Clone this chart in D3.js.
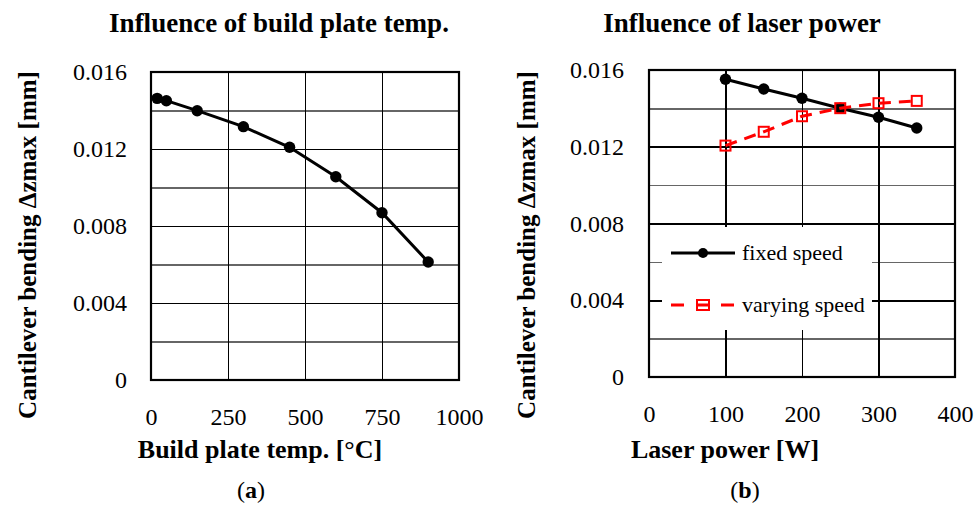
<!DOCTYPE html>
<html>
<head>
<meta charset="utf-8">
<script src="https://cdn.jsdelivr.net/npm/d3@7/dist/d3.min.js"></script>
<style>
  html, body { margin: 0; padding: 0; background: #fff; }
  svg { display: block; }
  text { font-family: "Liberation Serif", "DejaVu Serif", serif; fill: #000; }
</style>
</head>
<body>
<svg id="chart" width="978" height="507"></svg>
<script>
// ---- Data ----
const plateTemp = [20, 50, 150, 300, 450, 600, 750, 900];
const plateBending = [0.01463, 0.01451, 0.01399, 0.01316, 0.01209, 0.01056, 0.00869, 0.00613];

const laserPower = [100, 150, 200, 250, 300, 350];
const fixedSpeed = [0.01552, 0.01501, 0.01453, 0.01401, 0.01354, 0.01298];
const varyingSpeed = [0.01206, 0.01278, 0.01359, 0.01401, 0.01427, 0.01439];

const yTicks = [0, 0.004, 0.008, 0.012, 0.016];
const yMinor = [0.002, 0.006, 0.010, 0.014];
const plateTicks = [0, 250, 500, 750, 1000];
const powerTicks = [0, 100, 200, 300, 400];

const titles = ["Influence of build plate temp.", "Influence of laser power"];
const xTitles = ["Build plate temp. [°C]", "Laser power [W]"];
const yTitle = "Cantilever bending Δzmax [mm]";
const seriesNames = ["fixed speed", "varying speed"];
const panelLetters = ["a", "b"];

// ---- Drawing ----
const svg = d3.select("#chart");
const fmtY = d => d === 0 ? "0" : d3.format(".3f")(d);

function panel(cfg) {
  const g = svg.append("g");
  const x = d3.scaleLinear().domain(cfg.xDomain).range([cfg.left, cfg.right]);
  const y = d3.scaleLinear().domain([0, 0.016]).range([cfg.bottom, cfg.top]);
  const w = cfg.right - cfg.left, h = cfg.bottom - cfg.top;

  // minor horizontal grid (grey)
  g.append("g").attr("transform", `translate(${cfg.left},0)`)
    .call(d3.axisLeft(y).tickValues(yMinor).tickSize(-w).tickFormat(""))
    .call(s => s.select(".domain").remove())
    .call(s => s.selectAll("line").attr("stroke", "#666").attr("stroke-width", 1.3).attr("shape-rendering", "crispEdges"));
  // major horizontal grid
  g.append("g").attr("transform", `translate(${cfg.left},0)`)
    .call(d3.axisLeft(y).tickValues(yTicks).tickSize(-w).tickFormat(""))
    .call(s => s.select(".domain").remove())
    .call(s => s.selectAll("line").attr("stroke", "#000").attr("stroke-width", 1.6).attr("shape-rendering", "crispEdges"));
  // vertical grid
  g.append("g").attr("transform", `translate(0,${cfg.bottom})`)
    .call(d3.axisBottom(x).tickValues(cfg.xTicks).tickSize(-h).tickFormat(""))
    .call(s => s.select(".domain").remove())
    .call(s => s.selectAll("line").attr("stroke", "#000").attr("stroke-width", 1.6).attr("shape-rendering", "crispEdges"));

  // y tick labels
  g.append("g").attr("transform", `translate(${cfg.left},0)`)
    .call(d3.axisLeft(y).tickValues(yTicks).tickSize(0).tickPadding(cfg.yPad).tickFormat(fmtY))
    .call(s => s.select(".domain").remove())
    .call(s => s.selectAll("text").attr("font-family", "Liberation Serif").attr("font-size", 24).attr("fill", "#000"));
  // x tick labels
  g.append("g").attr("transform", `translate(0,${cfg.bottom})`)
    .call(d3.axisBottom(x).tickValues(cfg.xTicks).tickSize(0).tickPadding(28).tickFormat(d3.format("d")))
    .call(s => s.select(".domain").remove())
    .call(s => s.selectAll("text").attr("font-family", "Liberation Serif").attr("font-size", 24).attr("fill", "#000"));

  return { g, x, y, w, h };
}

function border(p, cfg) {
  p.g.append("rect").attr("x", cfg.left).attr("y", cfg.top).attr("width", p.w).attr("height", p.h)
    .attr("fill", "none").attr("stroke", "#000").attr("stroke-width", 2.2);
}

function labels(cfg, i) {
  svg.append("text").attr("x", cfg.titleX).attr("y", 32).attr("text-anchor", "middle")
    .attr("font-size", 27).attr("font-weight", "bold").text(titles[i]);
  svg.append("text").attr("x", cfg.xTitleX).attr("y", 458).attr("text-anchor", "middle")
    .attr("font-size", 26).attr("font-weight", "bold").text(xTitles[i]);
  svg.append("text").attr("transform", `translate(${cfg.yTitleX},245) rotate(-90)`)
    .attr("text-anchor", "middle").attr("font-size", 25).attr("font-weight", "bold").text(yTitle);
  const t = svg.append("text").attr("x", cfg.letterX).attr("y", 498).attr("text-anchor", "middle").attr("font-size", 24);
  t.append("tspan").text("(");
  t.append("tspan").attr("font-weight", "bold").text(panelLetters[i]);
  t.append("tspan").text(")");
}

// Panel (a)
const cfgA = { left: 151, right: 459, top: 72, bottom: 380, xDomain: [0, 1000], xTicks: plateTicks, yPad: 24,
  titleX: 279, xTitleX: 260, yTitleX: 36, letterX: 251 };
const pA = panel(cfgA);
const lineA = d3.line().x((d, i) => pA.x(plateTemp[i])).y(d => pA.y(d));
pA.g.append("path").datum(plateBending).attr("d", lineA).attr("fill", "none")
  .attr("stroke", "#000").attr("stroke-width", 3);
border(pA, cfgA);
pA.g.selectAll("circle.a").data(plateBending).enter().append("circle")
  .attr("cx", (d, i) => pA.x(plateTemp[i])).attr("cy", d => pA.y(d)).attr("r", 5.7).attr("fill", "#000");
labels(cfgA, 0);

// Panel (b)
const cfgB = { left: 649, right: 955, top: 70, bottom: 377, xDomain: [0, 400], xTicks: powerTicks, yPad: 25,
  titleX: 742, xTitleX: 725, yTitleX: 535, letterX: 745 };
const pB = panel(cfgB);
// legend background hides grid
const legend = { x: 662, y: 227, w: 210, h: 103 };
pB.g.append("rect").attr("x", legend.x).attr("y", legend.y).attr("width", legend.w).attr("height", legend.h).attr("fill", "#fff");
border(pB, cfgB);

const lineB = d3.line().x((d, i) => pB.x(laserPower[i])).y(d => pB.y(d));
pB.g.append("path").datum(fixedSpeed).attr("d", lineB).attr("fill", "none")
  .attr("stroke", "#000").attr("stroke-width", 3);
pB.g.selectAll("circle.b").data(fixedSpeed).enter().append("circle")
  .attr("cx", (d, i) => pB.x(laserPower[i])).attr("cy", d => pB.y(d)).attr("r", 5.7).attr("fill", "#000");
pB.g.append("path").datum(varyingSpeed).attr("d", lineB).attr("fill", "none")
  .attr("stroke", "#ff0000").attr("stroke-width", 3).attr("stroke-dasharray", "12,8");
pB.g.selectAll("rect.v").data(varyingSpeed).enter().append("rect")
  .attr("x", (d, i) => pB.x(laserPower[i]) - 5).attr("y", d => pB.y(d) - 5)
  .attr("width", 10).attr("height", 10).attr("fill", "none").attr("stroke", "#ff0000").attr("stroke-width", 2);

// legend entries
const lg = pB.g.append("g");
const ly1 = 253, ly2 = 305;
lg.append("line").attr("x1", 671).attr("x2", 735).attr("y1", ly1).attr("y2", ly1).attr("stroke", "#000").attr("stroke-width", 3);
lg.append("circle").attr("cx", 703).attr("cy", ly1).attr("r", 5).attr("fill", "#000");
lg.append("text").attr("x", 742).attr("y", ly1 + 7).attr("font-size", 22).text(seriesNames[0]);
lg.append("line").attr("x1", 671).attr("x2", 735).attr("y1", ly2).attr("y2", ly2).attr("stroke", "#ff0000").attr("stroke-width", 3).attr("stroke-dasharray", "13,12");
lg.append("rect").attr("x", 697).attr("y", ly2 - 5).attr("width", 12).attr("height", 10).attr("fill", "none").attr("stroke", "#ff0000").attr("stroke-width", 2);
lg.append("text").attr("x", 742).attr("y", ly2 + 7).attr("font-size", 22).text(seriesNames[1]);
labels(cfgB, 1);
</script>
</body>
</html>
